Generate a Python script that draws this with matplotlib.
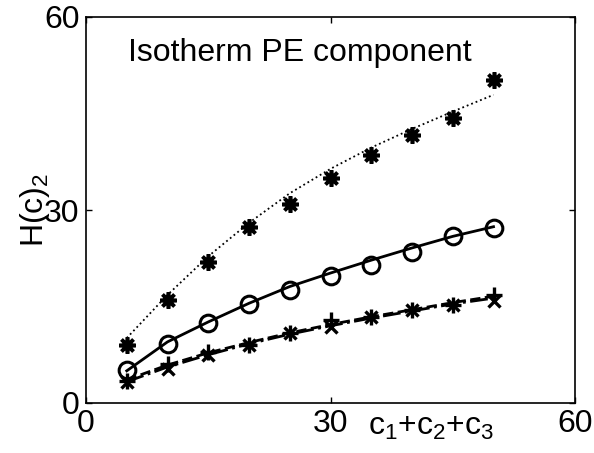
import numpy as np
import matplotlib
matplotlib.use("Agg")
import matplotlib.pyplot as plt
from matplotlib.transforms import blended_transform_factory

plt.rcParams['font.family'] = ['Liberation Sans', 'DejaVu Sans']
plt.rcParams['mathtext.fontset'] = 'custom'
plt.rcParams['mathtext.rm'] = 'Liberation Sans'
plt.rcParams['mathtext.it'] = 'Liberation Sans:italic'
plt.rcParams['mathtext.default'] = 'regular'

# total concentration c1+c2+c3
c_tot = [5, 10, 15, 20, 25, 30, 35, 40, 45, 50]

# simulated points
h_star = [9.0, 16.0, 21.9, 27.4, 30.9, 35.0, 38.6, 41.7, 44.3, 50.2]
h_circ = [5.1, 9.2, 12.4, 15.4, 17.6, 19.8, 21.5, 23.5, 26.0, 27.2]
h_plus = [3.4, 6.1, 8.0, 9.0, 10.9, 12.9, 13.4, 14.5, 15.2, 16.8]
h_x = [3.2, 5.3, 7.5, 9.0, 10.9, 11.8, 13.4, 14.5, 15.2, 15.8]

# fitted curves
fit_star = [10.1, 16.8, 22.8, 28.0, 32.6, 36.4, 39.7, 42.6, 45.3, 47.9]
fit_circ = [5.0, 9.5, 12.6, 15.5, 18.1, 20.2, 22.2, 24.1, 25.9, 27.4]
fit_plus = [3.6, 5.9, 7.8, 9.4, 10.9, 12.2, 13.4, 14.5, 15.6, 16.6]
fit_x = [3.3, 5.6, 7.5, 9.2, 10.7, 12.0, 13.2, 14.3, 15.4, 16.3]

xticks = [0, 30, 60]
yticks = [0, 30, 60]

fig = plt.figure(figsize=(5.94, 4.53), dpi=100)
ax = fig.add_axes([86 / 594, 50 / 453, 489 / 594, 386 / 453])

ax.plot(c_tot, fit_star, ':', color='k', lw=1.3)
ax.plot(c_tot, fit_circ, '-', color='k', lw=2.0)
ax.plot(c_tot, fit_plus, '--', color='k', lw=2.0)
ax.plot(c_tot, fit_x, '-.', color='k', lw=2.0)

ax.plot(c_tot, h_star, ls='none', marker=(8, 2, 0), ms=12, mew=2.6, color='k')
ax.plot(c_tot, h_circ, ls='none', marker='o', ms=12, mew=2.2, mfc='none', color='k')
ax.plot(c_tot, h_plus, ls='none', marker='+', ms=11, mew=2.4, color='k')
ax.plot(c_tot, h_x, ls='none', marker='x', ms=8.5, mew=2.4, color='k')

ax.set_xlim(0, 60)
ax.set_ylim(0, 60)
ax.set_xticks(xticks)
ax.set_yticks(yticks)
ax.tick_params(direction='in', length=4, width=1, labelsize=23, pad=4.5,
               top=True, right=True)
for s in ax.spines.values():
    s.set_linewidth(1.2)

ax.text(0.085, 0.885, 'Isotherm PE component', transform=ax.transAxes,
        fontsize=23, va='baseline', ha='left')

trans = blended_transform_factory(ax.transData, ax.transAxes)
ax.text(34.6, -0.083, 'c$_1$+c$_2$+c$_3$', transform=trans, fontsize=23,
        va='baseline', ha='left')

ax.set_ylabel('H(c)$_2$', fontsize=23)
ax.yaxis.set_label_coords(-0.07, 0.5)

fig.savefig('out.png', dpi=100)
